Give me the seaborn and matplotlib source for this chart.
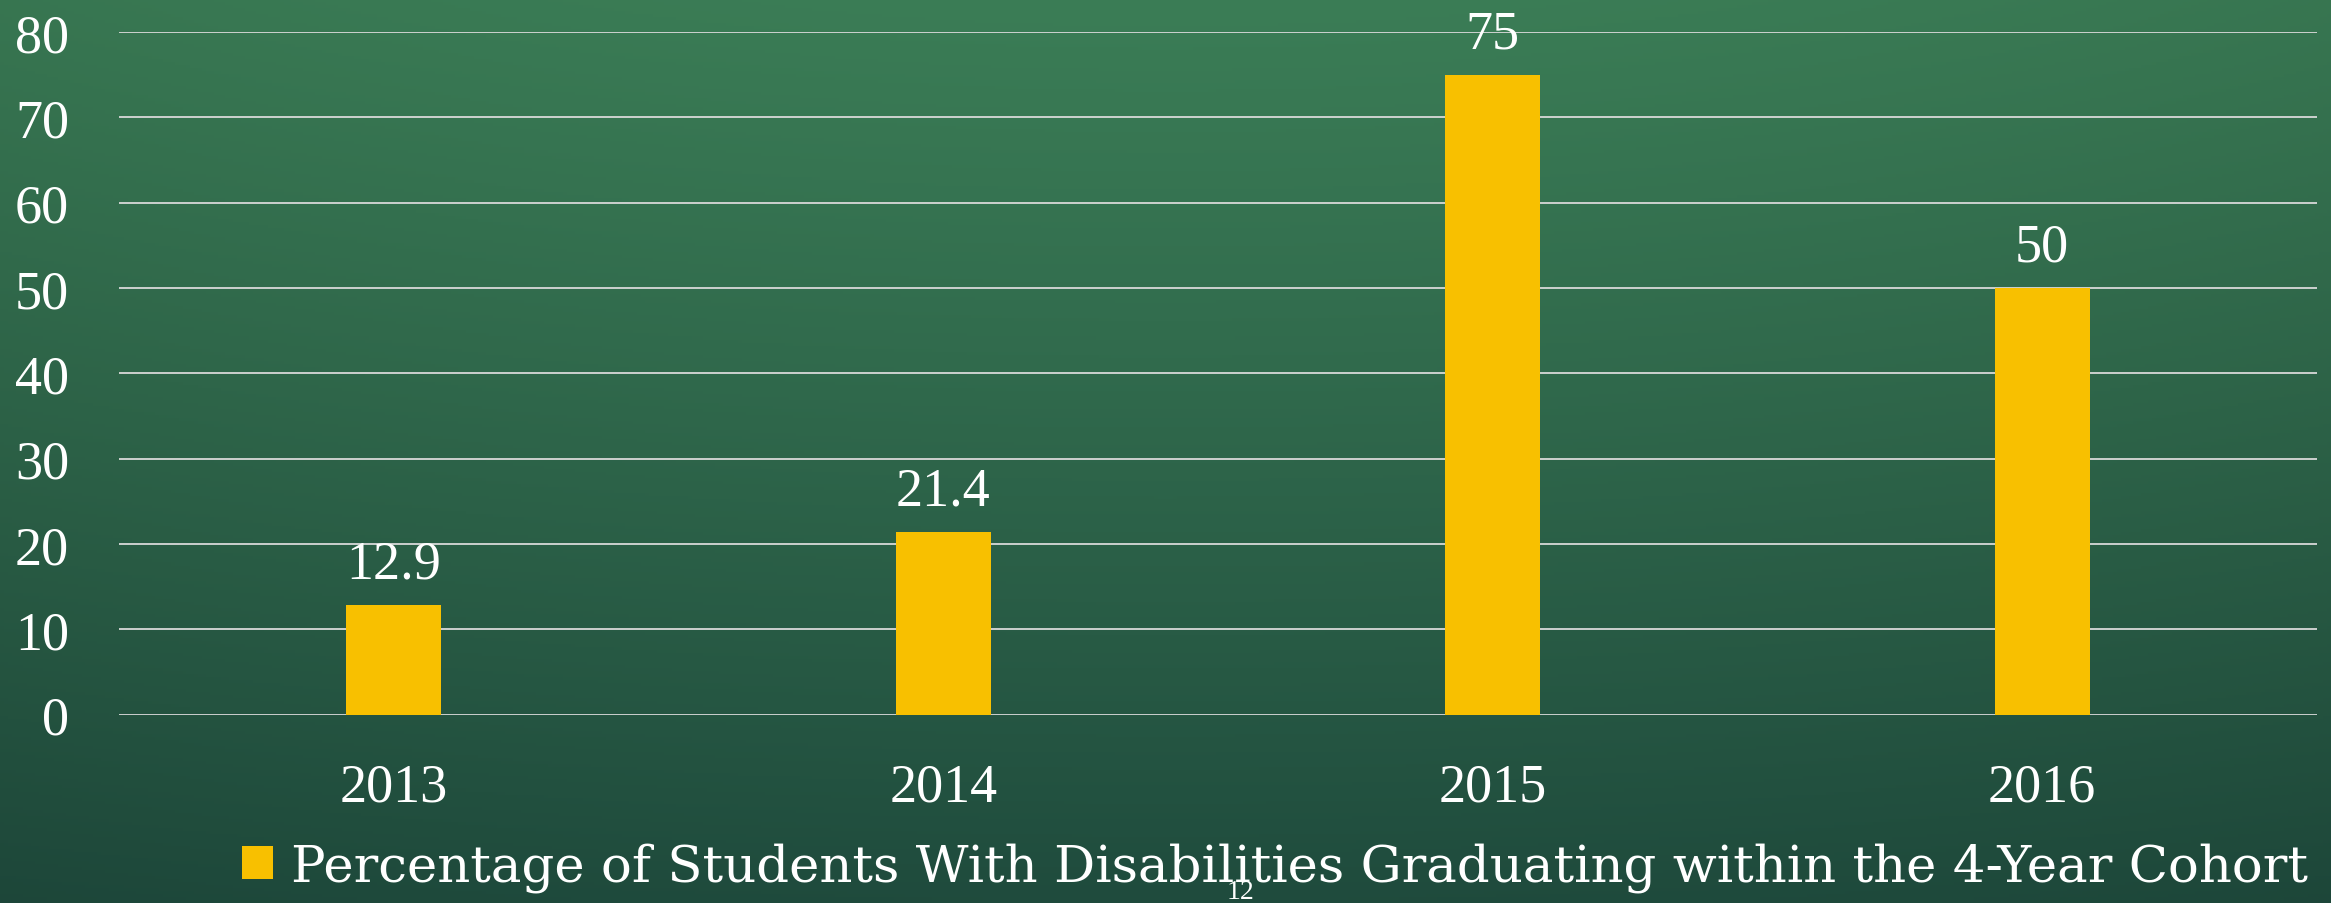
import numpy as np
import pandas as pd
import matplotlib
matplotlib.use("Agg")
import matplotlib.pyplot as plt
import seaborn as sns
from matplotlib.patches import Patch

# ---- data ----
years = ["2013", "2014", "2015", "2016"]
values = [12.9, 21.4, 75, 50]
value_labels = ["12.9", "21.4", "75", "50"]
yticks = [0, 10, 20, 30, 40, 50, 60, 70, 80]
series_name = "Percentage of Students With Disabilities Graduating within the 4-Year Cohort"
slide_number = "12"

sns.set_theme(style="white")
plt.rcParams["font.family"] = ["Liberation Serif", "DejaVu Serif"]

W, H, DPI = 2331, 904, 100
fig = plt.figure(figsize=(W / DPI, H / DPI), dpi=DPI)

# chalkboard-like background gradient
bg = fig.add_axes([0, 0, 1, 1], zorder=-10)
yy, xx = np.mgrid[0:1:300j, 0:1:600j]
top = np.array([0x3b, 0x7d, 0x56]) / 255
bot = np.array([0x1f, 0x4b, 0x3d]) / 255
t = np.clip(yy ** 1.1, 0, 1)[..., None]
img = top * (1 - t) + bot * t
vign = 1 - 0.06 * ((xx - 0.5) * 2) ** 2
img = img * vign[..., None]
bg.imshow(img, aspect="auto", extent=[0, 1, 0, 1], origin="upper")
bg.axis("off")

ax = fig.add_axes([119 / W, 1 - 715.7 / H, (2317 - 119) / W, (715.7 - 33) / H])
ax.set_facecolor("none")

df = pd.DataFrame({"year": years, "value": values})
sns.barplot(data=df, x="year", y="value", color="#F8C000", width=0.173,
            saturation=1, linewidth=0, edgecolor="none", ax=ax, zorder=3)

ax.set_ylim(0, 80)
ax.set_yticks(yticks)
ax.yaxis.grid(True, color="#d9d9d9", linewidth=1.3, zorder=0)
ax.xaxis.grid(False)
ax.set_axisbelow(True)
for s in ax.spines.values():
    s.set_visible(False)
ax.set_xlabel("")
ax.set_ylabel("")
ax.tick_params(axis="y", length=0, pad=36, labelsize=39, labelcolor="white")
ax.tick_params(axis="x", length=0, pad=34, labelsize=39, labelcolor="white")

for p, lab in zip(ax.patches, value_labels):
    ax.annotate(lab, (p.get_x() + p.get_width() / 2, p.get_height()),
                xytext=(0, 11), textcoords="offset points",
                ha="center", va="bottom", color="white", fontsize=39)

handle = Patch(facecolor="#F8C000", edgecolor="none")
fig.legend([handle], [series_name], loc="center left",
           bbox_to_anchor=(242 / W, 1 - 868 / H), frameon=False,
           prop={"family": ["DejaVu Serif"], "size": 37}, labelcolor="white",
           handlelength=0.6, handleheight=0.6,
           handletextpad=0.35, borderpad=0, borderaxespad=0)

fig.text(1240 / W, 1 - 893 / H, slide_number, color="white", fontsize=20,
         ha="center", va="center")

fig.savefig("out.png", dpi=DPI)
